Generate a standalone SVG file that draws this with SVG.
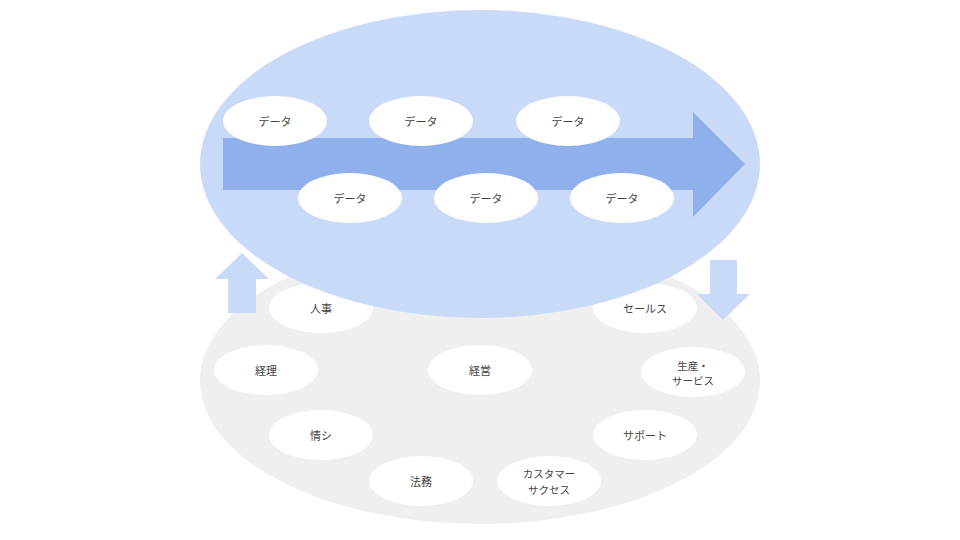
<svg xmlns="http://www.w3.org/2000/svg" width="960" height="540" viewBox="0 0 960 540">
<style>
.node ellipse{fill:#ffffff}
.node text{font-family:"Noto Sans CJK JP","Noto Sans",sans-serif;font-size:11px;fill:#434343;text-anchor:middle;dominant-baseline:central}
.node text.two{font-size:10.5px}
.lt{fill:#c9daf8}
.flow{fill:#8fb0ec}
</style>
<rect width="960" height="540" fill="#ffffff"/>
<ellipse id="base" cx="480" cy="381" rx="280" ry="143" fill="#efefef"/>
<g id="connectors">
  <polygon class="lt" points="228,313 256,313 256,279 269,279 242,253 215,279 228,279"/>
  <polygon class="lt" points="710,260 737,260 737,294 750,294 723,320 697,294 710,294"/>
</g>
<g id="n-jinji" class="node"><ellipse cx="321" cy="308" rx="52" ry="25"/><text x="321" y="308">人事</text></g>
<g id="n-sales" class="node"><ellipse cx="645" cy="308" rx="52" ry="25"/><text x="645" y="308">セールス</text></g>
<g id="n-keiri" class="node"><ellipse cx="266" cy="370" rx="52" ry="25"/><text x="266" y="370">経理</text></g>
<g id="n-keiei" class="node"><ellipse cx="480" cy="370" rx="52" ry="25"/><text x="480" y="370">経営</text></g>
<g id="n-seisan" class="node"><ellipse cx="693" cy="372" rx="52" ry="25"/><text class="two" x="693" y="365">生産・</text><text class="two" x="693" y="380.5">サービス</text></g>
<g id="n-joshi" class="node"><ellipse cx="321" cy="435" rx="52" ry="25"/><text x="321" y="435">情シ</text></g>
<g id="n-support" class="node"><ellipse cx="645" cy="435" rx="52" ry="25"/><text x="645" y="435">サポート</text></g>
<g id="n-houmu" class="node"><ellipse cx="421" cy="481" rx="52" ry="25"/><text x="421" y="481">法務</text></g>
<g id="n-cs" class="node"><ellipse cx="549" cy="481" rx="52" ry="25"/><text class="two" x="549" y="473.5">カスタマー</text><text class="two" x="549" y="489">サクセス</text></g>
<ellipse id="data-layer" class="lt" cx="480" cy="164" rx="280" ry="154"/>
<g id="flow-arrow"><polygon class="flow" points="223,138 693,138 693,112 745,164 693,217 693,190 223,190"/></g>
<g id="d1" class="node"><ellipse cx="275" cy="121" rx="52" ry="25"/><text x="275" y="121">データ</text></g>
<g id="d2" class="node"><ellipse cx="421" cy="121" rx="52" ry="25"/><text x="421" y="121">データ</text></g>
<g id="d3" class="node"><ellipse cx="568" cy="121" rx="52" ry="25"/><text x="568" y="121">データ</text></g>
<g id="d4" class="node"><ellipse cx="350" cy="198" rx="52" ry="25"/><text x="350" y="198">データ</text></g>
<g id="d5" class="node"><ellipse cx="486" cy="198" rx="52" ry="25"/><text x="486" y="198">データ</text></g>
<g id="d6" class="node"><ellipse cx="622" cy="198" rx="52" ry="25"/><text x="622" y="198">データ</text></g>
</svg>
